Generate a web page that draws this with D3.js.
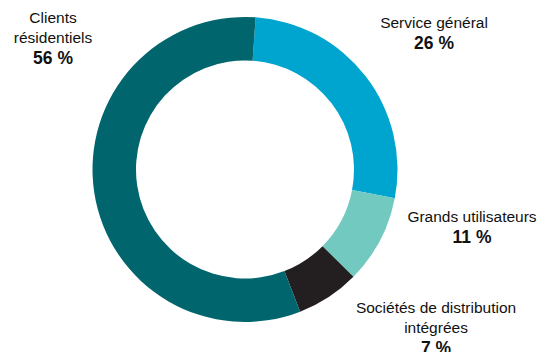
<!DOCTYPE html>
<html>
<head>
<meta charset="utf-8">
<script src="https://cdn.jsdelivr.net/npm/d3@7"></script>
<style>
  html, body { margin: 0; padding: 0; background: #fff; }
  svg { display: block; }
  text { font-family: "Liberation Sans", Arial, sans-serif; fill: #111; }
</style>
</head>
<body>
<svg id="chart" width="541" height="352"></svg>
<script>
// Categories in clockwise order starting near 12 o'clock
const categories = ["Service général", "Grands utilisateurs", "Sociétés de distribution intégrées", "Clients résidentiels"];
// Arc shares (percent of the circle)
const shares = [26.9, 9.4, 6.7, 57.0];
// Percent labels as printed
const pctLabels = ["26 %", "11 %", "7 %", "56 %"];
// Label lines (name split as in the picture)
const nameLines = [
  ["Service général"],
  ["Grands utilisateurs"],
  ["Sociétés de distribution", "intégrées"],
  ["Clients", "résidentiels"]
];
const colors = ["#00A5CF", "#71C9BF", "#231F20", "#00656D"];

const W = 541, H = 352;
const cx = 245, cy = 169.5;
const outerR = 152.5, innerR = 109;
const startDeg = 4;

const svg = d3.select("#chart");
const g = svg.append("g").attr("transform", `translate(${cx},${cy})`);

const pie = d3.pie().sort(null).value(d => d)
  .startAngle(startDeg * Math.PI / 180)
  .endAngle((startDeg + 360) * Math.PI / 180);
const arc = d3.arc().innerRadius(innerR).outerRadius(outerR);

g.selectAll("path.slice")
  .data(pie(shares))
  .join("path")
  .attr("class", "slice")
  .attr("d", arc)
  .attr("fill", (d, i) => colors[i]);

// Label anchor positions (centre x, first baseline y) relative to the page
const labelPos = [
  [434, 28],
  [472, 222],
  [436, 313],
  [53, 23]
];
const lineH = 20;
const pctGap = 21;

const labels = svg.selectAll("g.label")
  .data(categories)
  .join("g")
  .attr("class", "label")
  .attr("transform", (d, i) => `translate(${labelPos[i][0]},${labelPos[i][1]})`);

labels.each(function(d, i) {
  const sel = d3.select(this);
  const lines = nameLines[i];
  lines.forEach((t, j) => {
    sel.append("text")
      .attr("x", 0).attr("y", j * lineH)
      .attr("text-anchor", "middle")
      .attr("font-size", 15.5)
      .text(t);
  });
  sel.append("text")
    .attr("x", 0).attr("y", (lines.length - 1) * lineH + pctGap)
    .attr("text-anchor", "middle")
    .attr("font-size", 17.5)
    .attr("font-weight", "bold")
    .text(pctLabels[i]);
});
</script>
</body>
</html>
